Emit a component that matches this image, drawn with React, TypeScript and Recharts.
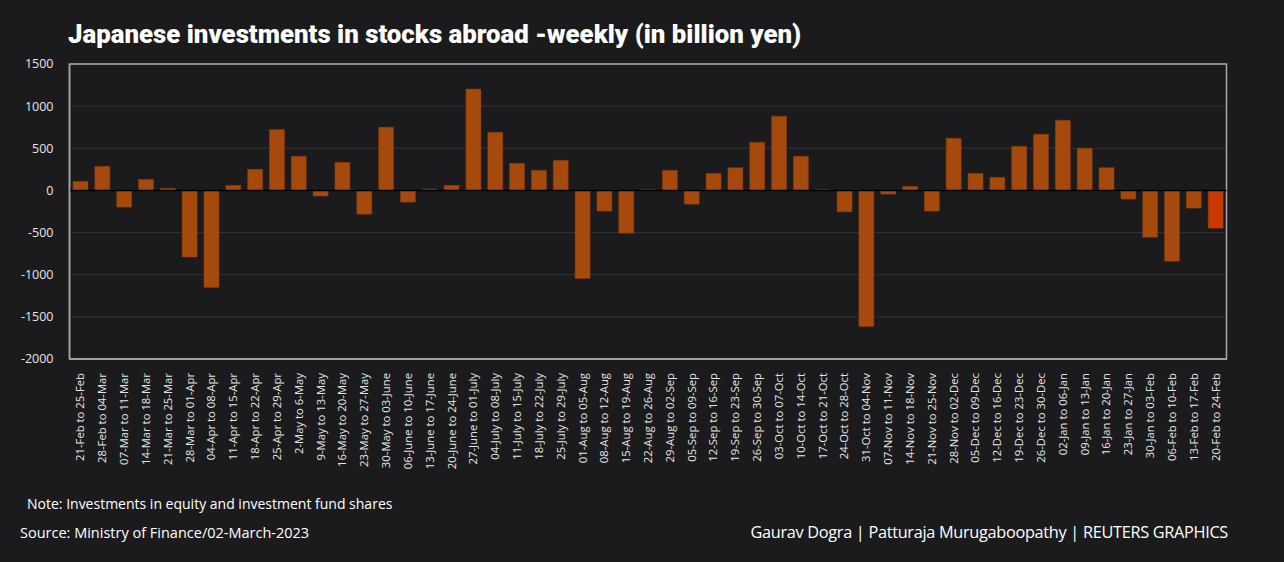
import React from 'react';
import { BarChart, Bar, XAxis, YAxis, CartesianGrid, ReferenceLine, ReferenceArea, Cell } from 'recharts';

const weeks = [
  '21-Feb to 25-Feb', '28-Feb to 04-Mar', '07-Mar to 11-Mar', '14-Mar to 18-Mar', '21-Mar to 25-Mar',
  '28-Mar to 01-Apr', '04-Apr to 08-Apr', '11-Apr to 15-Apr', '18-Apr to 22-Apr', '25-Apr to 29-Apr',
  '2-May to 6-May', '9-May to 13-May', '16-May to 20-May', '23-May to 27-May', '30-May to 03-June',
  '06-June to 10-June', '13-June to 17-June', '20-June to 24-June', '27-June to 01-July', '04-July to 08-July',
  '11-July to 15-July', '18-July to 22-July', '25-July to 29-July', '01-Aug to 05-Aug', '08-Aug to 12-Aug',
  '15-Aug to 19-Aug', '22-Aug to 26-Aug', '29-Aug to 02-Sep', '05-Sep to 09-Sep', '12-Sep to 16-Sep',
  '19-Sep to 23-Sep', '26-Sep to 30-Sep', '03-Oct to 07-Oct', '10-Oct to 14-Oct', '17-Oct to 21-Oct',
  '24-Oct to 28-Oct', '31-Oct to 04-Nov', '07-Nov to 11-Nov', '14-Nov to 18-Nov', '21-Nov to 25-Nov',
  '28-Nov to 02-Dec', '05-Dec to 09-Dec', '12-Dec to 16-Dec', '19-Dec to 23-Dec', '26-Dec to 30-Dec',
  '02-Jan to 06-Jan', '09-Jan to 13-Jan', '16-Jan to 20-Jan', '23-Jan to 27-Jan', '30-Jan to 03-Feb',
  '06-Feb to 10-Feb', '13-Feb to 17-Feb', '20-Feb to 24-Feb',
];

const investments = [
  107, 286, -198, 131, 24, -790, -1151, 60, 250, 722,
  405, -67, 333, -282, 750, -139, 16, 60, 1202, 690,
  321, 238, 357, -1044, -246, -508, 12, 238, -163, 202,
  270, 571, 881, 405, 12, -254, -1615, -44, 48, -246,
  619, 202, 155, 524, 667, 833, 500, 270, -103, -556,
  -841, -210, -448,
];

const yTicks = [1500, 1000, 500, 0, -500, -1000, -1500, -2000];

const data = weeks.map((w, i) => ({ week: w, value: investments[i] }));

const BAR = '#a54a0c';
const LAST = '#c93a02';
const BG = '#1b1b1d';
const FONT = '"Open Sans", "Noto Sans", sans-serif';

const XTick = (props: any) => {
  const { x, y, payload } = props;
  return (
    <text
      x={0}
      y={0}
      transform={`translate(${x + 4},${y + 6}) rotate(-90)`}
      textAnchor="end"
      fill="#e6e6e6"
      fontSize={11.3}
      fontFamily={FONT}
    >
      {payload.value}
    </text>
  );
};

export default function App() {
  return (
    <div style={{ position: 'absolute', left: 0, top: 0, width: 1284, height: 562, background: BG, overflow: 'hidden' }}>
      <div style={{ position: 'absolute', left: 68, top: 19, color: '#fff', fontFamily: 'Roboto, sans-serif', fontWeight: 900, fontSize: 25.8, letterSpacing: 0, whiteSpace: 'nowrap' }}>
        Japanese investments in stocks abroad -weekly (in billion yen)
      </div>
      <div style={{ position: 'absolute', left: 0, top: 0 }}>
        <BarChart
          width={1284}
          height={480}
          data={data}
          margin={{ top: 64, right: 57.5, left: 0, bottom: 0 }}
          barCategoryGap="16%"
        >
          <CartesianGrid horizontal vertical={false} stroke="#333336" strokeWidth={1} />
          <XAxis
            dataKey="week"
            interval={0}
            height={121}
            tick={<XTick />}
            tickLine={false}
            axisLine={{ stroke: '#a8a8a8', strokeWidth: 1.5 }}
          />
          <YAxis
            domain={[-2000, 1500]}
            ticks={yTicks}
            width={69.5}
            interval={0}
            tick={{ fill: '#e6e6e6', fontSize: 12.5, fontFamily: FONT }}
            tickLine={false}
            axisLine={{ stroke: '#a8a8a8', strokeWidth: 1.5 }}
            tickMargin={10}
          />
          <ReferenceArea y1={-2000} y2={1500} fill="none" stroke="#a8a8a8" strokeWidth={1.5} ifOverflow="visible" />
          <Bar dataKey="value" isAnimationActive={false} stroke="#8a3a08" strokeWidth={0.5}>
            {data.map((d, i) => (
              <Cell key={d.week} fill={i === data.length - 1 ? LAST : BAR} />
            ))}
          </Bar>
          <ReferenceLine y={0} stroke="#000" strokeWidth={1.5} />
        </BarChart>
      </div>
      <div style={{ position: 'absolute', left: 27, top: 494, color: '#fff', fontFamily: FONT, fontSize: 14, whiteSpace: 'nowrap' }}>
        Note: Investments in equity and investment fund shares
      </div>
      <div style={{ position: 'absolute', left: 20, top: 523, color: '#fff', fontFamily: FONT, fontSize: 14.5, whiteSpace: 'nowrap' }}>
        Source: Ministry of Finance/02-March-2023
      </div>
      <div style={{ position: 'absolute', right: 56, top: 521, color: '#fff', fontFamily: FONT, fontSize: 16.3, letterSpacing: -0.3, whiteSpace: 'nowrap' }}>
        Gaurav Dogra | Patturaja Murugaboopathy | REUTERS GRAPHICS
      </div>
    </div>
  );
}
